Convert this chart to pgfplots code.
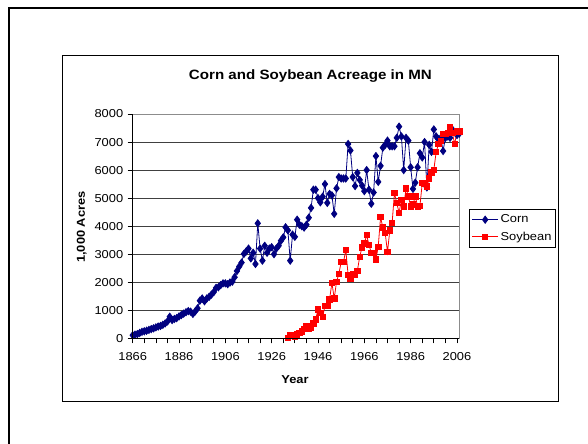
\documentclass[border=0pt]{standalone}
\usepackage{fontspec}
\setmainfont{Liberation Sans}[FakeStretch=1.12]
\usepackage{pgfplots}
\pgfplotsset{compat=1.18}
\definecolor{cornblue}{HTML}{000080}
\definecolor{soyred}{HTML}{FF0000}

\begin{document}
\begin{tikzpicture}
\path[use as bounding box] (0,0) rectangle (588bp,444bp);
% outer page frame (only top and left visible)
\draw[line width=2bp] (9bp,-2bp) -- (9bp,435.5bp) -- (590bp,435.5bp);
% chart area frame
\draw[line width=0.8bp] (62.2bp,42.3bp) rectangle (558.7bp,388.3bp);

\begin{axis}[
  at={(132.7bp,105.7bp)},anchor=south west,
  scale only axis,width=326.6bp,height=224.3bp,
  xmin=1866,xmax=2007,ymin=0,ymax=8000,
  xtick={1866,1886,...,2006},minor xtick={1871,1876,...,2001},
  ytick={0,1000,...,8000},
  xtick pos=lower,ytick pos=left,tick align=outside,
  major tick length=5bp,minor tick length=5bp,
  tick style={black,line width=0.7bp},
  ymajorgrids,grid style={black!75,line width=0.7bp},
  axis line style={draw=black!45,line width=0.8bp},
  after end axis/.code={\draw[black,line width=0.8bp] (rel axis cs:0,1) -- (rel axis cs:0,0) -- (rel axis cs:1,0);},
  /pgf/number format/1000 sep={},
  /pgf/number format/assume math mode=true,
  tick label style={font=\fontsize{11.5bp}{13bp}\selectfont},
  xticklabel style={yshift=-6bp},
  yticklabel style={xshift=-1bp},
  title={\textbf{Corn and Soybean Acreage in MN}},
  title style={font=\fontsize{13.5bp}{15bp}\selectfont,at={(0.544,1.174)},anchor=center,yshift=-7bp},
  xlabel={\textbf{Year}},
  xlabel style={font=\fontsize{11.5bp}{13bp}\selectfont,at={(0.497,-0.185)},anchor=center},
  ylabel={\textbf{1,000 Acres}},
  ylabel style={font=\fontsize{11.5bp}{13bp}\selectfont,at={(-0.156,0.496)},anchor=center},
  legend style={at={(1.031,0.576)},anchor=north west,draw=black,line width=0.7bp,
    font=\fontsize{11.5bp}{13bp}\selectfont,inner xsep=2bp,inner ysep=3.5bp,row sep=3.5bp},
  legend cell align=left,
  legend image code/.code={\draw[mark repeat=2,mark phase=2,#1] plot coordinates {(0bp,0bp) (13bp,0bp) (26bp,0bp)};},
]
\addplot[cornblue,line width=0.8bp,mark=diamond*,mark size=3.6bp,mark options={solid,fill=cornblue}] table {
x y
1866 110
1867 130
1868 150
1869 190
1870 230
1871 250
1872 270
1873 300
1874 330
1875 355
1876 390
1877 420
1878 440
1879 480
1880 530
1881 600
1882 770
1883 650
1884 690
1885 720
1886 780
1887 830
1888 880
1889 930
1890 970
1891 950
1892 870
1893 960
1894 1070
1895 1340
1896 1420
1897 1320
1898 1420
1899 1480
1900 1560
1901 1650
1902 1800
1903 1820
1904 1900
1905 1960
1906 1960
1907 1930
1908 1990
1909 2020
1910 2180
1911 2400
1912 2560
1913 2700
1914 3010
1915 3100
1916 3200
1917 2850
1918 3050
1919 2650
1920 4100
1921 3200
1922 2770
1923 3300
1924 3050
1925 3200
1926 3250
1927 3000
1928 3200
1929 3300
1930 3480
1931 3600
1932 3960
1933 3850
1934 2770
1935 3700
1936 3620
1937 4230
1938 4050
1939 4000
1940 3950
1941 4050
1942 4300
1943 4650
1944 5300
1945 5300
1946 5000
1947 4850
1948 5050
1949 5500
1950 4830
1951 5150
1952 5100
1953 4440
1954 5350
1955 5750
1956 5700
1957 5700
1958 5700
1959 6930
1960 6700
1961 5750
1962 5430
1963 5900
1964 5650
1965 5450
1966 5250
1967 6000
1968 5300
1969 4800
1970 5200
1971 6500
1972 5580
1973 6150
1974 6800
1975 6900
1976 7050
1977 6850
1978 6850
1979 6850
1980 7150
1981 7550
1982 7200
1983 6000
1984 7150
1985 7050
1986 6100
1987 5330
1988 5550
1989 6100
1990 6600
1991 6450
1992 7000
1993 5380
1994 6900
1995 6650
1996 7450
1997 7200
1998 7100
1999 7150
2000 6680
2001 7150
2002 7200
2003 7150
2004 7450
2005 7350
2006 7250
2007 7300
};
\addlegendentry{Corn}
\addplot[soyred,line width=0.8bp,mark=square*,mark size=2.7bp,mark options={solid,fill=soyred}] table {
x y
1933 20
1934 120
1935 80
1936 60
1937 140
1938 200
1939 240
1940 330
1941 440
1942 360
1943 390
1944 530
1945 680
1946 1030
1947 910
1948 770
1949 1150
1950 1150
1951 1390
1952 1980
1953 1420
1954 2020
1955 2300
1956 2720
1957 2720
1958 3150
1959 2260
1960 2140
1961 2290
1962 2260
1963 2410
1964 2910
1965 3240
1966 3390
1967 3680
1968 3330
1969 3050
1970 3050
1971 2820
1972 3270
1973 4320
1974 3950
1975 3750
1976 3080
1977 3850
1978 4120
1979 5180
1980 4830
1981 4470
1982 4940
1983 4710
1984 5340
1985 5060
1986 4710
1987 4770
1988 5060
1989 4710
1990 4720
1991 5540
1992 5500
1993 5420
1994 5700
1995 5920
1996 6010
1997 6640
1998 6930
1999 7050
2000 7290
2001 7290
2002 7320
2003 7530
2004 7320
2005 6930
2006 7380
2007 7380
};
\addlegendentry{Soybean}
\end{axis}
\end{tikzpicture}
\end{document}
